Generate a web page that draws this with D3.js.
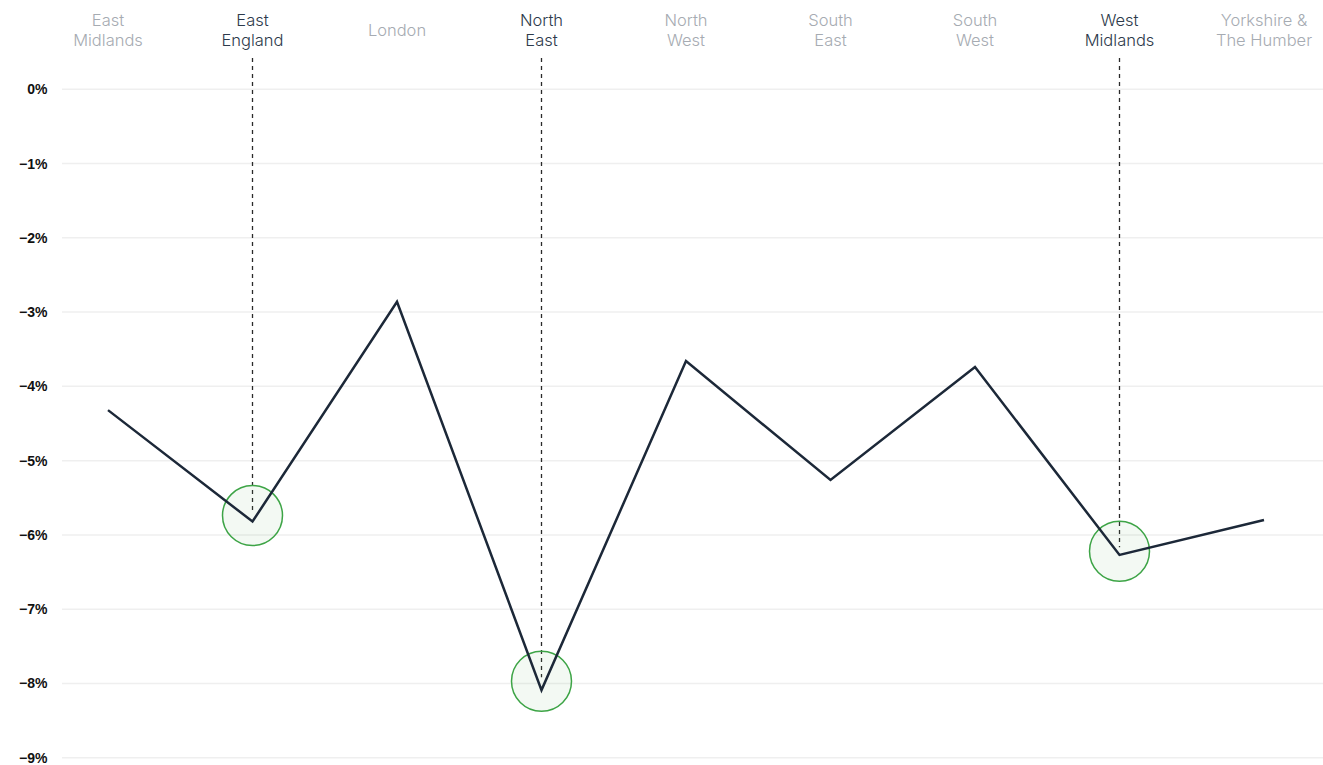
<!DOCTYPE html>
<html>
<head>
<meta charset="utf-8">
<script src="https://cdn.jsdelivr.net/npm/d3@7/dist/d3.min.js"></script>
<style>
  html, body { margin: 0; padding: 0; background: #ffffff; }
  svg { display: block; }
</style>
</head>
<body>
<svg id="chart" width="1323" height="765"></svg>
<script>
// Regions in display order, each with a two-line heading
const regions = ["East Midlands", "East England", "London", "North East", "North West",
                 "South East", "South West", "West Midlands", "Yorkshire & The Humber"];
const regionLines = [["East", "Midlands"], ["East", "England"], ["London"], ["North", "East"],
                     ["North", "West"], ["South", "East"], ["South", "West"],
                     ["West", "Midlands"], ["Yorkshire &", "The Humber"]];
// Percentage change per region
const changeValues = [-4.32, -5.82, -2.86, -8.09, -3.66, -5.26, -3.74, -6.27, -5.80];
// Regions called out with a marker ring, and where each ring sits on the value axis
const highlighted = ["East England", "North East", "West Midlands"];
const ringValues = [-5.74, -7.97, -6.22];
// Axis ticks
const yTicks = [0, -1, -2, -3, -4, -5, -6, -7, -8, -9];

const svg = d3.select("#chart");

const x = d3.scalePoint().domain(regions).range([108, 1264]);
const y = d3.scaleLinear().domain([-9, 0]).range([757.7, 89.3]);

// Gridlines
svg.append("g")
  .selectAll("line")
  .data(yTicks)
  .join("line")
  .attr("x1", 62).attr("x2", 1323)
  .attr("y1", d => y(d)).attr("y2", d => y(d))
  .attr("stroke", "#efefef")
  .attr("stroke-width", 1.5);

// Y axis labels
const yAxis = d3.axisLeft(y).tickValues(yTicks).tickSize(0).tickPadding(0)
  .tickFormat(d => d3.format("d")(d) + "%");
svg.append("g")
  .attr("transform", "translate(47.5,0)")
  .call(yAxis)
  .call(g => g.select(".domain").remove())
  .call(g => g.selectAll("text")
    .attr("font-family", "'Liberation Sans', Arial, sans-serif")
    .attr("font-weight", "bold")
    .attr("font-size", 14)
    .attr("fill", "#111111"));

// Region headings
const heads = svg.append("g")
  .selectAll("text")
  .data(regions)
  .join("text")
  .attr("text-anchor", "middle")
  .attr("font-family", "Inter, 'Noto Sans', sans-serif")
  .attr("font-weight", 300)
  .attr("font-size", 16.5)
  .attr("fill", d => highlighted.includes(d) ? "#2d3a4b" : "#a6abb2");
heads.each(function(d, i) {
  const lines = regionLines[i];
  const t = d3.select(this);
  const top = lines.length === 1 ? 36 : 26;
  lines.forEach((ln, j) => {
    t.append("tspan").attr("x", x(d)).attr("y", top + j * 20).text(ln);
  });
});

// Dashed leaders from the heading down to the ring
const ringData = highlighted.map((r, i) => ({ region: r, value: ringValues[i] }));
svg.append("g")
  .selectAll("line")
  .data(ringData)
  .join("line")
  .attr("x1", d => x(d.region)).attr("x2", d => x(d.region))
  .attr("y1", 58)
  .attr("y2", d => y(d.value) - 4)
  .attr("stroke", "#2a2a2a")
  .attr("stroke-width", 1.3)
  .attr("stroke-dasharray", "4,4");

// Marker rings
svg.append("g")
  .selectAll("circle")
  .data(ringData)
  .join("circle")
  .attr("cx", d => x(d.region))
  .attr("cy", d => y(d.value))
  .attr("r", 30)
  .attr("fill", "rgba(90,170,80,0.07)")
  .attr("stroke", "#3da446")
  .attr("stroke-width", 1.5);

// Change line
const line = d3.line()
  .x((d, i) => x(regions[i]))
  .y(d => y(d));
svg.append("path")
  .datum(changeValues)
  .attr("d", line)
  .attr("fill", "none")
  .attr("stroke", "#1c2838")
  .attr("stroke-width", 2.5)
  .attr("stroke-linejoin", "miter");
</script>
</body>
</html>
